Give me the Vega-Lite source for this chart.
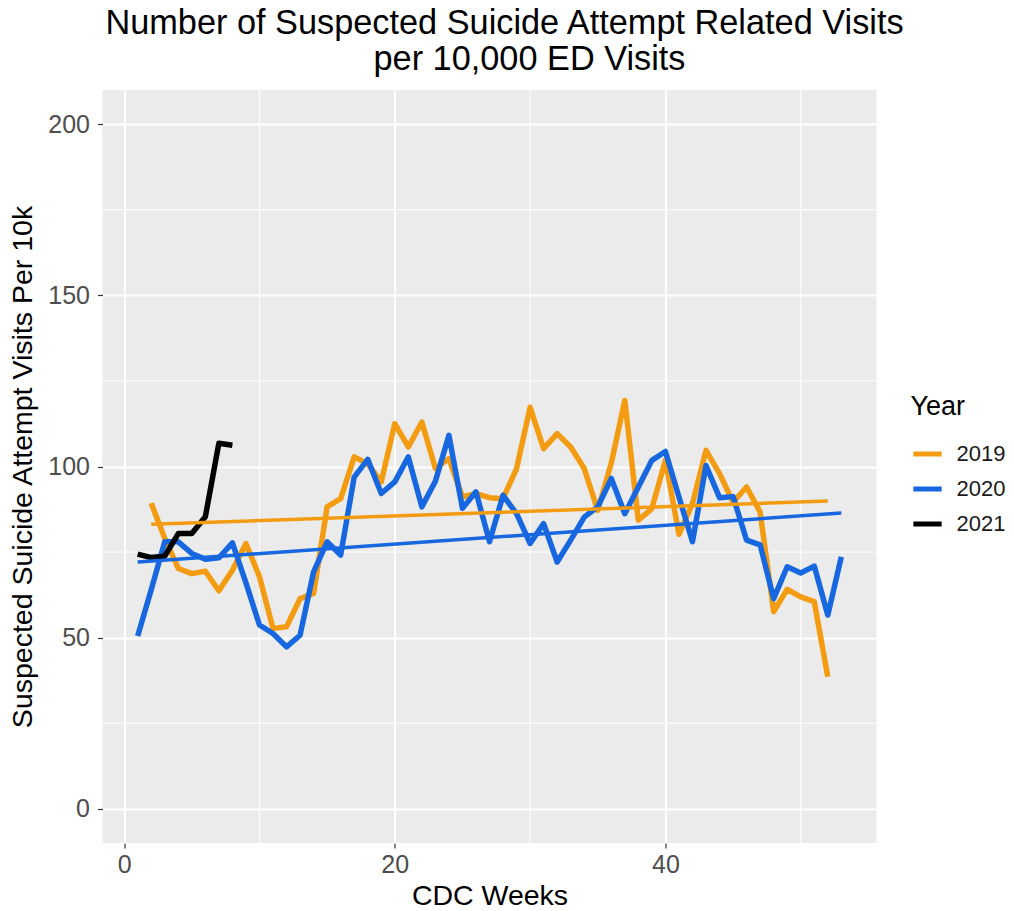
{
  "$schema": "https://vega.github.io/schema/vega-lite/v6.json",
  "autosize": "none",
  "width": 774,
  "height": 753,
  "padding": {"left": 102.5, "top": 90, "right": 137.5, "bottom": 68},
  "background": "white",
  "title": {
    "text": ["Number of Suspected Suicide Attempt Related Visits", "\u2800\u2800per 10,000 ED Visits"],
    "font": "Liberation Sans",
    "fontSize": 34.3,
    "fontWeight": "normal",
    "color": "#000000",
    "anchor": "middle",
    "dx": 15,
    "lineHeight": 36,
    "offset": 12
  },
  "config": {
    "font": "Liberation Sans",
    "view": {"fill": "#EBEBEB", "stroke": null},
    "axis": {
      "grid": true,
      "gridColor": "#FFFFFF",
      "gridWidth": 2,
      "domain": false,
      "tickColor": "#333333",
      "tickSize": 5,
      "tickWidth": 1.2,
      "labelColor": "#4D4D4D",
      "labelFont": "Liberation Sans",
      "labelFontSize": 25,
      "titleFont": "Liberation Sans",
      "titleFontSize": 28.5,
      "titleFontWeight": "normal",
      "titleColor": "#000000"
    }
  },
  "datasets": {
    "minorx": [{"v": 10}, {"v": 30}, {"v": 50}],
    "minory": [{"v": 25}, {"v": 75}, {"v": 125}, {"v": 175}],
    "trend": [
      {"week": 2, "year": "2019", "value": 83.1},
      {"week": 52, "year": "2019", "value": 89.9},
      {"week": 1, "year": "2020", "value": 72.1},
      {"week": 53, "year": "2020", "value": 86.4}
    ],
    "visits": [
      {"week": 2, "year": "2019", "value": 89.3},
      {"week": 3, "year": "2019", "value": 79},
      {"week": 4, "year": "2019", "value": 70.2},
      {"week": 5, "year": "2019", "value": 68.7},
      {"week": 6, "year": "2019", "value": 69.4},
      {"week": 7, "year": "2019", "value": 63.7},
      {"week": 8, "year": "2019", "value": 69.7},
      {"week": 9, "year": "2019", "value": 77.5},
      {"week": 10, "year": "2019", "value": 67.8},
      {"week": 11, "year": "2019", "value": 52.7},
      {"week": 12, "year": "2019", "value": 53.2},
      {"week": 13, "year": "2019", "value": 61.4},
      {"week": 14, "year": "2019", "value": 62.9},
      {"week": 15, "year": "2019", "value": 88.2},
      {"week": 16, "year": "2019", "value": 90.6},
      {"week": 17, "year": "2019", "value": 102.8},
      {"week": 18, "year": "2019", "value": 100.8},
      {"week": 19, "year": "2019", "value": 95.5},
      {"week": 20, "year": "2019", "value": 112.5},
      {"week": 21, "year": "2019", "value": 105.7},
      {"week": 22, "year": "2019", "value": 113},
      {"week": 23, "year": "2019", "value": 99.4},
      {"week": 24, "year": "2019", "value": 102.3},
      {"week": 25, "year": "2019", "value": 91.1},
      {"week": 26, "year": "2019", "value": 92.1},
      {"week": 27, "year": "2019", "value": 90.9},
      {"week": 28, "year": "2019", "value": 90.6},
      {"week": 29, "year": "2019", "value": 99.4},
      {"week": 30, "year": "2019", "value": 117.3},
      {"week": 31, "year": "2019", "value": 105.2},
      {"week": 32, "year": "2019", "value": 109.6},
      {"week": 33, "year": "2019", "value": 105.7},
      {"week": 34, "year": "2019", "value": 99.4},
      {"week": 35, "year": "2019", "value": 87.2},
      {"week": 36, "year": "2019", "value": 101},
      {"week": 37, "year": "2019", "value": 119.3},
      {"week": 38, "year": "2019", "value": 84.3},
      {"week": 39, "year": "2019", "value": 87.7},
      {"week": 40, "year": "2019", "value": 101.8},
      {"week": 41, "year": "2019", "value": 80.2},
      {"week": 42, "year": "2019", "value": 89.2},
      {"week": 43, "year": "2019", "value": 104.7},
      {"week": 44, "year": "2019", "value": 97.9},
      {"week": 45, "year": "2019", "value": 89.6},
      {"week": 46, "year": "2019", "value": 94},
      {"week": 47, "year": "2019", "value": 86.7},
      {"week": 48, "year": "2019", "value": 57.6},
      {"week": 49, "year": "2019", "value": 64.1},
      {"week": 50, "year": "2019", "value": 61.9},
      {"week": 51, "year": "2019", "value": 60.5},
      {"week": 52, "year": "2019", "value": 38.6},
      {"week": 1, "year": "2020", "value": 50.5},
      {"week": 2, "year": "2020", "value": 64},
      {"week": 3, "year": "2020", "value": 78},
      {"week": 4, "year": "2020", "value": 78},
      {"week": 5, "year": "2020", "value": 74.6},
      {"week": 6, "year": "2020", "value": 72.9},
      {"week": 7, "year": "2020", "value": 73.3},
      {"week": 8, "year": "2020", "value": 77.7},
      {"week": 9, "year": "2020", "value": 66},
      {"week": 10, "year": "2020", "value": 53.7},
      {"week": 11, "year": "2020", "value": 51.2},
      {"week": 12, "year": "2020", "value": 47.3},
      {"week": 13, "year": "2020", "value": 50.7},
      {"week": 14, "year": "2020", "value": 69.2},
      {"week": 15, "year": "2020", "value": 78},
      {"week": 16, "year": "2020", "value": 74.1},
      {"week": 17, "year": "2020", "value": 96.9},
      {"week": 18, "year": "2020", "value": 102.1},
      {"week": 19, "year": "2020", "value": 92.1},
      {"week": 20, "year": "2020", "value": 95.5},
      {"week": 21, "year": "2020", "value": 102.8},
      {"week": 22, "year": "2020", "value": 88.2},
      {"week": 23, "year": "2020", "value": 95.7},
      {"week": 24, "year": "2020", "value": 109.1},
      {"week": 25, "year": "2020", "value": 87.8},
      {"week": 26, "year": "2020", "value": 92.6},
      {"week": 27, "year": "2020", "value": 78},
      {"week": 28, "year": "2020", "value": 91.6},
      {"week": 29, "year": "2020", "value": 86.2},
      {"week": 30, "year": "2020", "value": 77.5},
      {"week": 31, "year": "2020", "value": 83.3},
      {"week": 32, "year": "2020", "value": 72.1},
      {"week": 33, "year": "2020", "value": 78.5},
      {"week": 34, "year": "2020", "value": 85.2},
      {"week": 35, "year": "2020", "value": 88.2},
      {"week": 36, "year": "2020", "value": 96.5},
      {"week": 37, "year": "2020", "value": 86.2},
      {"week": 38, "year": "2020", "value": 94},
      {"week": 39, "year": "2020", "value": 101.8},
      {"week": 40, "year": "2020", "value": 104.4},
      {"week": 41, "year": "2020", "value": 91.1},
      {"week": 42, "year": "2020", "value": 78},
      {"week": 43, "year": "2020", "value": 100.3},
      {"week": 44, "year": "2020", "value": 90.9},
      {"week": 45, "year": "2020", "value": 91.2},
      {"week": 46, "year": "2020", "value": 78.5},
      {"week": 47, "year": "2020", "value": 77.1},
      {"week": 48, "year": "2020", "value": 61.4},
      {"week": 49, "year": "2020", "value": 70.7},
      {"week": 50, "year": "2020", "value": 68.9},
      {"week": 51, "year": "2020", "value": 70.9},
      {"week": 52, "year": "2020", "value": 56.6},
      {"week": 53, "year": "2020", "value": 73.6},
      {"week": 1, "year": "2021", "value": 74.4},
      {"week": 2, "year": "2021", "value": 73.4},
      {"week": 3, "year": "2021", "value": 73.8},
      {"week": 4, "year": "2021", "value": 80.4},
      {"week": 5, "year": "2021", "value": 80.4},
      {"week": 6, "year": "2021", "value": 85.3},
      {"week": 7, "year": "2021", "value": 106.8},
      {"week": 8, "year": "2021", "value": 106.2}
    ]
  },
  "layer": [
    {
      "data": {"name": "minorx"},
      "mark": {"type": "rule", "color": "#FFFFFF", "strokeWidth": 1},
      "encoding": {
        "x": {"field": "v", "type": "quantitative", "scale": {"domain": [-1.6, 55.6], "nice": false, "zero": false}}
      }
    },
    {
      "data": {"name": "minory"},
      "mark": {"type": "rule", "color": "#FFFFFF", "strokeWidth": 1},
      "encoding": {
        "y": {"field": "v", "type": "quantitative", "scale": {"domain": [-10, 210], "nice": false, "zero": false}}
      }
    },
    {
      "data": {"name": "visits"},
      "mark": {"type": "line", "strokeWidth": 5.5, "strokeJoin": "round", "strokeCap": "butt"},
      "encoding": {
        "x": {
          "field": "week", "type": "quantitative",
          "scale": {"domain": [-1.6, 55.6], "nice": false, "zero": false},
          "axis": {"values": [0, 20, 40], "title": "CDC Weeks", "labelPadding": 4, "titlePadding": 4}
        },
        "y": {
          "field": "value", "type": "quantitative",
          "scale": {"domain": [-10, 210], "nice": false, "zero": false},
          "axis": {"values": [0, 50, 100, 150, 200], "title": "Suspected Suicide Attempt Visits Per 10k", "labelPadding": 8, "titlePadding": 10}
        },
        "color": {
          "field": "year", "type": "nominal",
          "scale": {"domain": ["2019", "2020", "2021"], "range": ["#F39C12", "#1767E0", "#000000"]},
          "legend": {
            "title": "Year",
            "orient": "none",
            "legendX": 808,
            "legendY": 304,
            "symbolType": "stroke",
            "symbolStrokeWidth": 5,
            "symbolSize": 800,
            "labelFontSize": 22,
            "labelColor": "#1A1A1A",
            "labelOffset": 12,
            "titleFontSize": 27,
            "titleFontWeight": "normal",
            "titleColor": "#000000",
            "titlePadding": 16,
            "rowPadding": 7
          }
        },
        "order": {"field": "week", "type": "quantitative"}
      }
    },
    {
      "data": {"name": "trend"},
      "mark": {"type": "line", "strokeWidth": 3.5},
      "encoding": {
        "x": {"field": "week", "type": "quantitative"},
        "y": {"field": "value", "type": "quantitative"},
        "color": {"field": "year", "type": "nominal"}
      }
    }
  ]
}
